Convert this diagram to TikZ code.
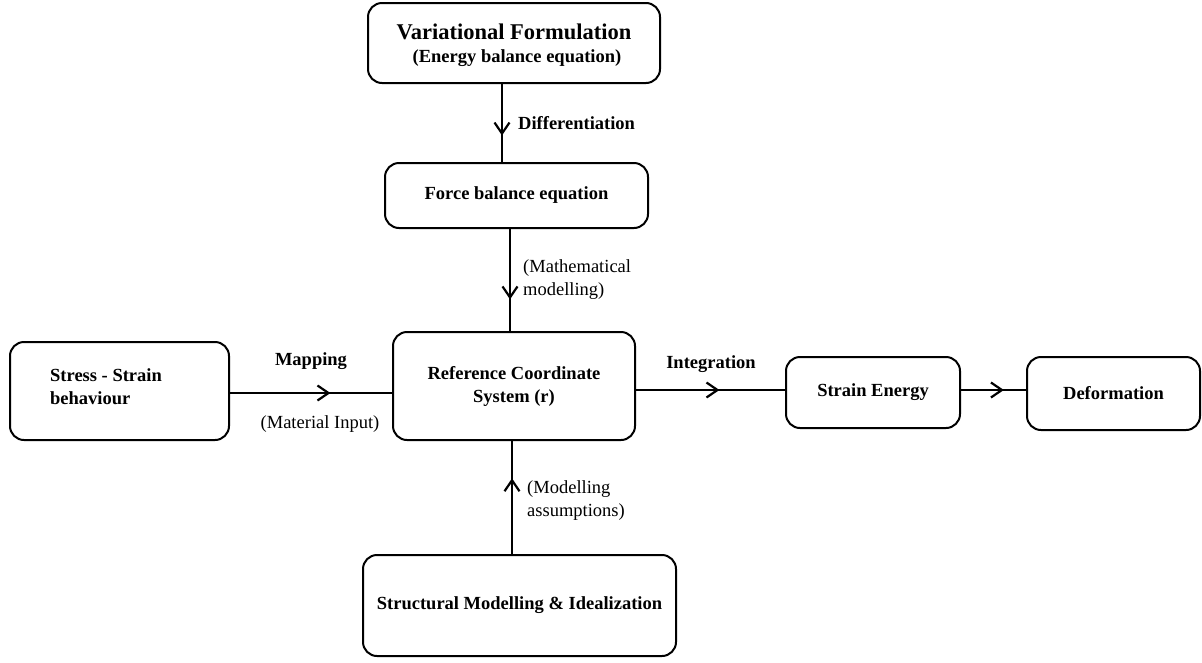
\documentclass[tikz,border=0pt]{standalone}
\usepackage{fontspec}
\setmainfont{Liberation Serif}
\usetikzlibrary{arrows.meta,decorations.markings,calc}
\begin{document}
\begin{tikzpicture}[x=1pt,y=-1pt,
  box/.style={draw, line width=2pt, rounded corners=14pt, inner sep=0pt,
    font=\fontsize{18.5}{23}\selectfont\bfseries, align=center},
  conn/.style={line width=2pt},
  lbl/.style={font=\fontsize{18.5}{23}\selectfont, align=left, inner sep=0pt},
  blbl/.style={font=\fontsize{18.5}{23}\selectfont\bfseries, align=left, inner sep=0pt},
  midarrow/.style={postaction={decorate}, decoration={markings,
    mark=at position #1 with {\arrow{Straight Barb[length=11pt,width=15pt,line width=2.2pt]}}}}]
\useasboundingbox (0,0) rectangle (1202,662);
\fill[white] (0,0) rectangle (1202,662);

\node[box, minimum width=292pt, minimum height=80pt] (var) at (514,43) {};
\node[font=\fontsize{18.5}{23}\selectfont\bfseries, align=center, inner sep=0pt] (vartext) at (514,45)
  {{\fontsize{22.5}{24}\selectfont Variational Formulation}\\{\hspace*{6pt}(Energy balance equation)}};
\node[box, minimum width=263pt, minimum height=65pt] (force) at (516.5,195.5) {\raisebox{-1.5pt}{Force balance equation}};
\node[box, minimum width=219pt, minimum height=98pt] (stress) at (119.5,391) {};
\node[blbl, anchor=west] (stresstext) at (50,387) {Stress - Strain\\behaviour};
\node[box, minimum width=242pt, minimum height=108pt] (ref) at (514,386) {Reference Coordinate\\System (r)};
\node[box, minimum width=174pt, minimum height=71pt] (strain) at (873,392.5) {Strain Energy};
\node[box, minimum width=173pt, minimum height=73pt] (def) at (1113.5,393.5) {Deformation};
\node[box, minimum width=313pt, minimum height=101pt] (struct) at (519.5,605.5) {\raisebox{4pt}{Structural Modelling \& Idealization}};

\coordinate (a1) at (502,0);
\draw[conn, midarrow=0.66] (var.south -| a1) -- (force.north -| a1);
\coordinate (a2) at (510,0);
\draw[conn, midarrow=0.69] (force.south -| a2) -- (ref.north -| a2);
\coordinate (a3) at (0,393);
\draw[conn, midarrow=0.62] (stress.east |- a3) -- (ref.west |- a3);
\coordinate (a4) at (0,390);
\draw[conn, midarrow=0.56] (ref.east |- a4) -- (strain.west |- a4);
\draw[conn, midarrow=0.66] (strain.east |- a4) -- (def.west |- a4);
\coordinate (a5) at (512,0);
\draw[conn, midarrow=0.67] (struct.north -| a5) -- (ref.south -| a5);

\node[blbl, anchor=west] (ldiff) at (518,123) {Differentiation};
\node[lbl, anchor=west] (lmath) at (523,280) {(Mathematical\\modelling)};
\node[blbl] (lmap) at (311,361) {Mapping};
\node[lbl] (lmat) at (320,424) {(Material Input)};
\node[blbl] (lint) at (711,364) {Integration};
\node[lbl, anchor=west] (lmod) at (527,501) {(Modelling\\assumptions)};
\end{tikzpicture}
\end{document}
